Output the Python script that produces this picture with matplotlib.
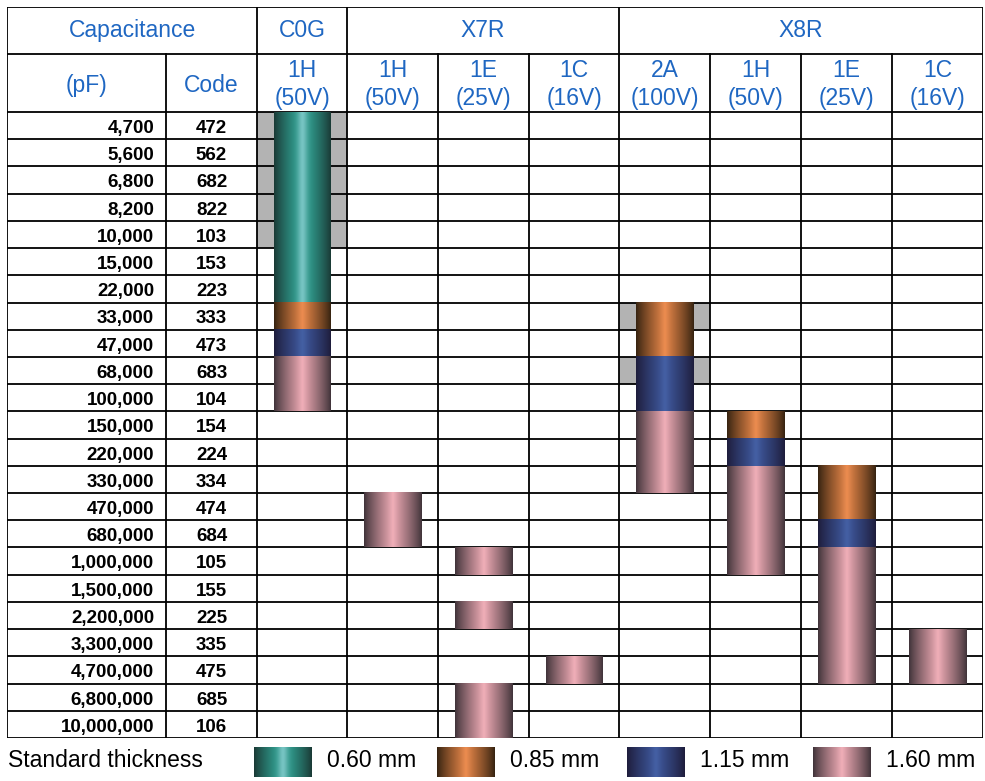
import numpy as np
import matplotlib
matplotlib.use("Agg")
import matplotlib.pyplot as plt
from matplotlib.patches import Rectangle

plt.rcParams['font.family'] = ['Liberation Sans', 'DejaVu Sans']

# ---------------- data ----------------
capacitance_pf = ["4,700", "5,600", "6,800", "8,200", "10,000", "15,000", "22,000",
                  "33,000", "47,000", "68,000", "100,000", "150,000", "220,000",
                  "330,000", "470,000", "680,000", "1,000,000", "1,500,000",
                  "2,200,000", "3,300,000", "4,700,000", "6,800,000", "10,000,000"]
codes = ["472", "562", "682", "822", "103", "153", "223", "333", "473", "683", "104",
         "154", "224", "334", "474", "684", "105", "155", "225", "335", "475", "685", "106"]

dielectrics = ["C0G", "X7R", "X8R"]
dielectric_span = [1, 3, 4]
voltage_codes = ["1H", "1H", "1E", "1C", "2A", "1H", "1E", "1C"]
voltage_values = ["(50V)", "(50V)", "(25V)", "(16V)", "(100V)", "(50V)", "(25V)", "(16V)"]

_ = ""
# thickness (mm) per row for each voltage column
c0g_1h = ["0.60", "0.60", "0.60", "0.60", "0.60", "0.60", "0.60", "0.85", "1.15", "1.60", "1.60",
          _, _, _, _, _, _, _, _, _, _, _, _]
x7r_1h = [_, _, _, _, _, _, _, _, _, _, _, _, _, _, "1.60", "1.60", _, _, _, _, _, _, _]
x7r_1e = [_, _, _, _, _, _, _, _, _, _, _, _, _, _, _, _, "1.60", _, "1.60", _, _, "1.60", "1.60"]
x7r_1c = [_, _, _, _, _, _, _, _, _, _, _, _, _, _, _, _, _, _, _, _, "1.60", _, _]
x8r_2a = [_, _, _, _, _, _, _, "0.85", "0.85", "1.15", "1.15", "1.60", "1.60", "1.60",
          _, _, _, _, _, _, _, _, _]
x8r_1h = [_, _, _, _, _, _, _, _, _, _, _, "0.85", "1.15", "1.60", "1.60", "1.60", "1.60",
          _, _, _, _, _, _]
x8r_1e = [_, _, _, _, _, _, _, _, _, _, _, _, _, "0.85", "0.85", "1.15", "1.60", "1.60",
          "1.60", "1.60", "1.60", _, _]
x8r_1c = [_, _, _, _, _, _, _, _, _, _, _, _, _, _, _, _, _, _, _, "1.60", "1.60", _, _]
columns = [c0g_1h, x7r_1h, x7r_1e, x7r_1c, x8r_2a, x8r_1h, x8r_1e, x8r_1c]

# gray (shaded) cells: (voltage column index, row index)
gray_cells = [(0, 0), (0, 1), (0, 2), (0, 3), (0, 4), (4, 7), (4, 9)]

thickness_labels = ["0.60", "0.85", "1.15", "1.60"]
thickness_edge = {"0.60": (26, 56, 52), "0.85": (52, 34, 16),
                  "1.15": (30, 28, 58), "1.60": (62, 50, 56)}
thickness_mid = {"0.60": (52, 176, 160), "0.85": (230, 134, 72),
                 "1.15": (62, 88, 158), "1.60": (236, 168, 178)}
thickness_hi = {"0.60": (118, 198, 196), "0.85": (236, 140, 80),
                "1.15": (68, 96, 164), "1.60": (240, 174, 184)}

# ---------------- layout ----------------
W, H = 985, 781
col_w = [159, 91, 90, 91, 91, 90, 91, 91, 91, 91]
xb = np.concatenate([[0], np.cumsum(col_w)])
row_px = 626 / 23
table_top_px, data_top_px = 7, 112
nrows = len(capacitance_pf)
blue = "#1f67c2"
lw = 1.3
hfs = 16.5


def py(p):
    """pixel row (image coordinates) -> table data coordinate"""
    return (p - data_top_px) / row_px


def gradient(key, n=240):
    x = np.linspace(0, 1, n)
    t = (1 - np.abs(2 * x - 1)) ** 0.85
    e = np.array(thickness_edge[key]) / 255
    m = np.array(thickness_mid[key]) / 255
    hi = np.array(thickness_hi[key]) / 255
    col = e[None, :] + (m - e)[None, :] * t[:, None]
    g = np.exp(-((x - 0.5) / 0.09) ** 2)
    col = col + (hi - m)[None, :] * g[:, None]
    return np.clip(col[None, :, :], 0, 1)


fig = plt.figure(figsize=(W / 100, H / 100), dpi=100)
ax = fig.add_axes([7 / W, 1 - 738 / H, xb[-1] / W, 731 / H])
ax.axis("off")
top = py(table_top_px)

# gray cells
for ci, ri in gray_cells:
    ax.add_patch(Rectangle((xb[ci + 2], ri), xb[ci + 3] - xb[ci + 2], 1,
                           facecolor="#b3b3b3", edgecolor="none", zorder=0))

# grid lines
ax.plot([0, xb[-1]], [top, top], color="k", lw=lw, zorder=1)
for r in range(nrows + 1):
    ax.plot([0, xb[-1]], [r, r], color="k", lw=lw, zorder=1)
span_edges = [0, 2, 3, 6, 10]
for i in range(len(xb)):
    y0 = top if i in span_edges else py(54)
    ax.plot([xb[i], xb[i]], [y0, nrows], color="k", lw=lw, zorder=1)
ax.plot([0, xb[-1]], [py(54), py(54)], color="k", lw=lw, zorder=1)

# header text
ax.text((xb[0] + xb[2]) / 2, py(37), "Capacitance", ha="center", va="baseline",
        color=blue, fontsize=hfs)
start = 2
for name, span in zip(dielectrics, dielectric_span):
    ax.text((xb[start] + xb[start + span]) / 2, py(37), name, ha="center",
            va="baseline", color=blue, fontsize=hfs)
    start += span
ax.text((xb[0] + xb[1]) / 2, py(92), "(pF)", ha="center", va="baseline",
        color=blue, fontsize=hfs)
ax.text((xb[1] + xb[2]) / 2, py(92), "Code", ha="center", va="baseline",
        color=blue, fontsize=hfs)
for i, (vc, vv) in enumerate(zip(voltage_codes, voltage_values)):
    cx = (xb[i + 2] + xb[i + 3]) / 2
    ax.text(cx, py(77), vc, ha="center", va="baseline", color=blue, fontsize=hfs)
    ax.text(cx, py(105), vv, ha="center", va="baseline", color=blue, fontsize=hfs)

# row labels
for r, (cap, code) in enumerate(zip(capacitance_pf, codes)):
    ax.text(xb[1] - 12, r + 0.77, cap, ha="right", va="baseline", fontsize=13.5,
            fontweight="bold")
    ax.text((xb[1] + xb[2]) / 2, r + 0.77, code, ha="center", va="baseline",
            fontsize=13.5, fontweight="bold")

# bars
grads = {k: gradient(k) for k in thickness_labels}
bar_frac = 0.63
for ci, col in enumerate(columns):
    cx = (xb[ci + 2] + xb[ci + 3]) / 2
    hw = (xb[ci + 3] - xb[ci + 2]) * bar_frac / 2
    r = 0
    while r < nrows:
        if col[r]:
            k = col[r]
            r2 = r
            while r2 + 1 < nrows and col[r2 + 1] == k:
                r2 += 1
            ax.imshow(grads[k], extent=(cx - hw, cx + hw, r2 + 1, r), aspect="auto",
                      interpolation="bilinear", zorder=3)
            r = r2 + 1
        else:
            r += 1
ax.set_xlim(0, xb[-1])
ax.set_ylim(nrows, top)

# legend
lax = fig.add_axes([0, 0, 1, 1 - 740 / H])
lax.axis("off")
lax.text(8, 767, "Standard thickness", ha="left", va="baseline", fontsize=hfs)
sw_x = [254, 437, 627, 813]
for k, x0 in zip(thickness_labels, sw_x):
    lax.imshow(grads[k], extent=(x0, x0 + 58, 777, 747), aspect="auto",
               interpolation="bilinear")
    lax.text(x0 + 73, 767, f"{k} mm", ha="left", va="baseline", fontsize=hfs)
lax.set_xlim(0, W)
lax.set_ylim(H, 740)

fig.savefig("out.png", dpi=100)
